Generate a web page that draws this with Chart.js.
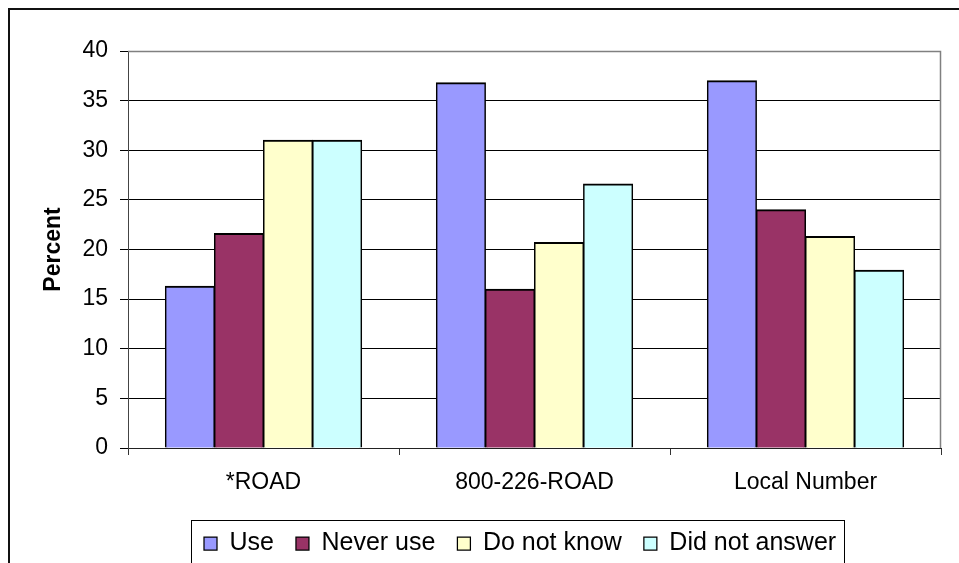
<!DOCTYPE html>
<html>
<head>
<meta charset="utf-8">
<script src="https://cdn.jsdelivr.net/npm/chart.js@4.4.0/dist/chart.umd.min.js"></script>
<style>
  html, body { margin: 0; padding: 0; background: #fff; overflow: hidden; }
  canvas { display: block; }
</style>
</head>
<body>
<canvas id="graph" width="959" height="566"></canvas>
<script>
const categories = ['*ROAD', '800-226-ROAD', 'Local Number'];
const seriesNames = ['Use', 'Never use', 'Do not know', 'Did not answer'];
const useValues = [16.3, 36.8, 37.0];
const neverUseValues = [21.6, 16.0, 24.0];
const doNotKnowValues = [31.0, 20.7, 21.3];
const didNotAnswerValues = [31.0, 26.6, 17.9];
const yTicks = [0, 5, 10, 15, 20, 25, 30, 35, 40];

const colors = ['#9999FF', '#993366', '#FFFFCC', '#CCFFFF'];
const allValues = [useValues, neverUseValues, doNotKnowValues, didNotAnswerValues];

Chart.defaults.font.family = '"Liberation Sans", Arial, sans-serif';
Chart.defaults.color = '#000';

// frame around the whole chart, plot border, and the box around the legend
const framePlugin = {
    id: 'frames',
    afterLayout(chart) {
        // legend in the original is not centred on the visible part
        chart.legend.left = 182;
    },
    beforeDraw(chart) {
        const ctx = chart.ctx;
        ctx.save();
        ctx.fillStyle = '#fff';
        ctx.fillRect(0, 0, chart.width, chart.height);
        ctx.strokeStyle = '#111';
        ctx.lineWidth = 2;
        ctx.strokeRect(9, 9, 1100, 1100);
        ctx.restore();
    },
    beforeDatasetsDraw(chart) {
        const a = chart.chartArea;
        const ctx = chart.ctx;
        ctx.save();
        ctx.strokeStyle = '#808080';
        ctx.lineWidth = 1.5;
        ctx.beginPath();
        ctx.moveTo(a.left, a.top + 0.5);
        ctx.lineTo(a.right - 0.5, a.top + 0.5);
        ctx.lineTo(a.right - 0.5, a.bottom);
        ctx.stroke();
        ctx.restore();
    },
    afterDraw(chart) {
        const lg = chart.legend;
        const pad = lg.options.labels.padding;
        const ctx = chart.ctx;
        const left = lg.left + pad - 13;
        const right = lg.left + lg.lineWidths[0] + 8;
        const top = lg.top + pad + 12.5 - 23.5;
        ctx.save();
        ctx.strokeStyle = '#000';
        ctx.lineWidth = 1;
        ctx.strokeRect(Math.round(left) + 0.5, Math.round(top) + 0.5, Math.round(right - left), 200);
        ctx.restore();
    }
};

new Chart(document.getElementById('graph'), {
    type: 'bar',
    data: {
        labels: categories,
        datasets: seriesNames.map((name, i) => ({
            label: name,
            data: allValues[i],
            backgroundColor: colors[i],
            borderColor: '#000',
            borderWidth: { top: 2, left: 1.5, right: 1.5, bottom: 0 },
            borderSkipped: 'start',
            inflateAmount: 0.5,
            categoryPercentage: 0.724,
            barPercentage: 1.0
        }))
    },
    options: {
        responsive: false,
        animation: false,
        devicePixelRatio: 1,
        layout: {
            padding: { top: 51, right: 18, left: 0, bottom: 0 }
        },
        plugins: {
            tooltip: { enabled: false },
            legend: {
                position: 'bottom',
                align: 'start',
                labels: {
                    font: { size: 25 },
                    color: '#000',
                    boxWidth: 13,
                    boxHeight: 13,
                    padding: 22
                }
            }
        },
        scales: {
            x: {
                offset: true,
                grid: {
                    offset: true,
                    drawOnChartArea: false,
                    drawTicks: true,
                    tickLength: 7,
                    color: '#333'
                },
                border: { color: '#222', width: 1 },
                ticks: {
                    font: { size: 23 },
                    color: '#000',
                    padding: 14,
                    maxRotation: 0
                },
                afterFit(scale) { scale.height = 61; }
            },
            y: {
                min: 0,
                max: 40,
                afterBuildTicks(scale) {
                    scale.ticks = yTicks.map(v => ({ value: v }));
                },
                grid: {
                    color: '#000',
                    lineWidth: 1,
                    drawTicks: true,
                    tickLength: 8
                },
                border: { color: '#444', width: 1 },
                ticks: {
                    font: { size: 23 },
                    color: '#000',
                    padding: 12
                },
                title: {
                    display: true,
                    text: 'Percent',
                    font: { size: 23, weight: 'bold' },
                    color: '#000',
                    padding: { top: 40, bottom: 0 }
                },
                afterFit(scale) { scale.width = 128; }
            }
        }
    },
    plugins: [framePlugin]
});
</script>
</body>
</html>
